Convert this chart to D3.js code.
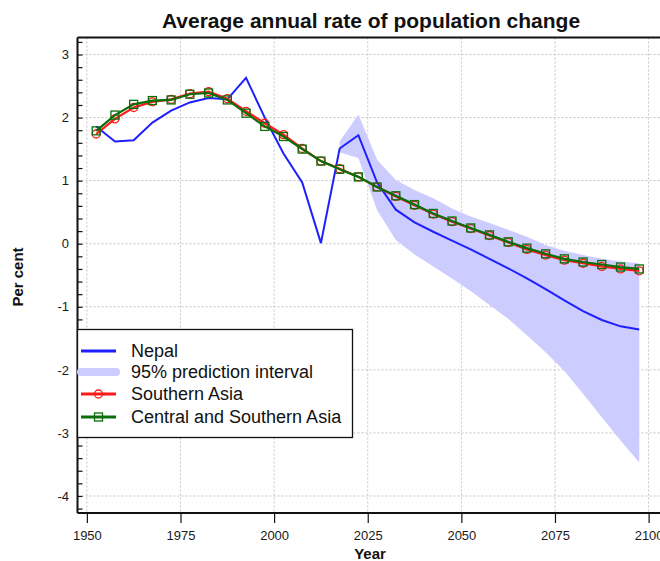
<!DOCTYPE html>
<html><head><meta charset="utf-8">
<script src="https://cdn.jsdelivr.net/npm/d3@7"></script>
<style>body{margin:0;background:#fff}svg{display:block;font-family:"Liberation Sans",Arial,sans-serif}</style>
</head><body><svg id="c" width="660" height="561"></svg>
<script>
const years = d3.range(30).map(i => 1952.5 + 5 * i);
const nepal = [1.86,1.62,1.64,1.92,2.11,2.24,2.31,2.29,2.63,2.00,1.43,0.97,0.01,1.51,1.72,0.97,0.54,0.34,0.19,0.05,-0.09,-0.24,-0.39,-0.55,-0.72,-0.90,-1.07,-1.21,-1.31,-1.36];
const southernAsia = [1.74,1.98,2.16,2.25,2.29,2.38,2.41,2.30,2.10,1.91,1.73,1.51,1.31,1.19,1.06,0.90,0.75,0.61,0.47,0.35,0.24,0.13,0.02,-0.09,-0.18,-0.26,-0.31,-0.36,-0.40,-0.43];
const centralSouthernAsia = [1.79,2.04,2.21,2.27,2.28,2.37,2.39,2.28,2.07,1.86,1.70,1.50,1.31,1.18,1.06,0.90,0.76,0.62,0.48,0.36,0.25,0.14,0.03,-0.07,-0.16,-0.24,-0.29,-0.33,-0.37,-0.40];
const piYears = d3.range(17).map(i => 2017.5 + 5 * i);
const piUpper = [1.62,2.05,1.33,1.01,0.85,0.72,0.56,0.43,0.33,0.22,0.11,-0.02,-0.11,-0.18,-0.24,-0.28,-0.31];
const piLower = [1.45,1.36,0.53,0.06,-0.17,-0.36,-0.55,-0.75,-0.97,-1.19,-1.45,-1.72,-2.02,-2.38,-2.75,-3.12,-3.47];
const xTicks = [1950,1975,2000,2025,2050,2075,2100];
const yTicks = [-4,-3,-2,-1,0,1,2,3];
const legendLabels = ["Nepal","95% prediction interval","Southern Asia","Central and Southern Asia"];

const svg = d3.select("#c");
const L = 77.5, T = 37.5, B = 513;
const x = d3.scaleLinear().domain([1947.5, 2105]).range([L, L + 157.5 * 3.745]);
const y = d3.scaleLinear().domain([-4.27, 3.27]).range([B, T]);

// gridlines
const g = svg.append("g");
g.selectAll(".gx").data(xTicks).join("line")
  .attr("x1", d => x(d)).attr("x2", d => x(d)).attr("y1", T).attr("y2", B)
  .attr("stroke", "#c4c4c4").attr("stroke-dasharray", "2,2").attr("stroke-width", 1);
g.selectAll(".gy").data(yTicks).join("line")
  .attr("x1", L).attr("x2", 660).attr("y1", d => y(d)).attr("y2", d => y(d))
  .attr("stroke", "#c4c4c4").attr("stroke-dasharray", "2,2").attr("stroke-width", 1);

// band
const pi = piYears.map((yr, i) => ({yr, lo: piLower[i], hi: piUpper[i]}));
svg.append("path").datum(pi)
  .attr("d", d3.area().x(d => x(d.yr)).y0(d => y(d.lo)).y1(d => y(d.hi)))
  .attr("fill", "#ccccff");

const line = d3.line().x(d => x(d[0])).y(d => y(d[1]));
svg.append("path").datum(years.map((yr, i) => [yr, nepal[i]]))
  .attr("d", line).attr("fill", "none").attr("stroke", "#1f1fff").attr("stroke-width", 2);

const sa = years.map((yr, i) => [yr, southernAsia[i]]);
svg.append("path").datum(sa).attr("d", line).attr("fill", "none").attr("stroke", "#ff1a1a").attr("stroke-width", 2.2);
svg.append("g").selectAll("circle").data(sa).join("circle")
  .attr("cx", d => x(d[0])).attr("cy", d => y(d[1])).attr("r", 4)
  .attr("fill", "none").attr("stroke", "#ff1a1a").attr("stroke-width", 1.3);

const csa = years.map((yr, i) => [yr, centralSouthernAsia[i]]);
svg.append("path").datum(csa).attr("d", line).attr("fill", "none").attr("stroke", "#0a6e0a").attr("stroke-width", 2.2);
svg.append("g").selectAll("rect").data(csa).join("rect")
  .attr("x", d => x(d[0]) - 4).attr("y", d => y(d[1]) - 4).attr("width", 8).attr("height", 8)
  .attr("fill", "none").attr("stroke", "#0a6e0a").attr("stroke-width", 1.3);

// axes
const yAxis = d3.axisRight(y).tickValues(d3.range(-42, 33, 2).map(v => v / 10)).tickSize(5).tickFormat("");
const ya = svg.append("g").attr("transform", `translate(${L},0)`).call(yAxis);
ya.select(".domain").attr("stroke", "#111").attr("stroke-width", 2).attr("d", `M0,${T}V${B}`);
ya.selectAll(".tick line").attr("stroke", "#111").attr("stroke-width", 1.2);
svg.append("g").selectAll("text").data(yTicks).join("text")
  .attr("x", 69).attr("y", d => y(d)).attr("dy", "0.36em").attr("text-anchor", "end")
  .attr("font-size", 13).attr("fill", "#1a1a1a").text(d => d);

const xAxis = d3.axisBottom(x).tickValues(xTicks).tickSize(10).tickFormat(d3.format("d"));
const xa = svg.append("g").attr("transform", `translate(0,${B})`).call(xAxis);
xa.select(".domain").attr("stroke", "#111").attr("stroke-width", 2).attr("d", `M${L},0H660`);
xa.selectAll(".tick line").attr("stroke", "#111").attr("stroke-width", 1.2);
xa.selectAll(".tick text").attr("font-size", 13).attr("fill", "#1a1a1a").attr("y", 18)
  .attr("font-family", "Liberation Sans, Arial, sans-serif");

svg.append("line").attr("x1", L).attr("x2", 660).attr("y1", T).attr("y2", T).attr("stroke", "#111").attr("stroke-width", 2);

// titles
svg.append("text").attr("x", 371).attr("y", 28).attr("text-anchor", "middle")
  .attr("font-size", 21).attr("font-weight", "bold").attr("fill", "#111").text("Average annual rate of population change");
svg.append("text").attr("transform", "translate(23,277) rotate(-90)").attr("text-anchor", "middle")
  .attr("font-size", 15).attr("font-weight", "bold").attr("fill", "#111").text("Per cent");
svg.append("text").attr("x", 370).attr("y", 559).attr("text-anchor", "middle")
  .attr("font-size", 15).attr("font-weight", "bold").attr("fill", "#111").text("Year");

// legend
const lg = svg.append("g");
lg.append("rect").attr("x", 77.5).attr("y", 329.5).attr("width", 275).attr("height", 108)
  .attr("fill", "#fff").attr("stroke", "#111").attr("stroke-width", 1.3);
const ly = [351, 372, 394, 417];
lg.append("line").attr("x1", 81).attr("x2", 116).attr("y1", ly[0]).attr("y2", ly[0]).attr("stroke", "#1f1fff").attr("stroke-width", 3);
lg.append("line").attr("x1", 81).attr("x2", 116).attr("y1", ly[1]).attr("y2", ly[1]).attr("stroke", "#ccccff").attr("stroke-width", 8).attr("stroke-linecap", "round");
lg.append("line").attr("x1", 81).attr("x2", 116).attr("y1", ly[2]).attr("y2", ly[2]).attr("stroke", "#ff1a1a").attr("stroke-width", 3);
lg.append("circle").attr("cx", 98.5).attr("cy", ly[2]).attr("r", 4).attr("fill", "none").attr("stroke", "#ff1a1a").attr("stroke-width", 1.3);
lg.append("line").attr("x1", 81).attr("x2", 116).attr("y1", ly[3]).attr("y2", ly[3]).attr("stroke", "#0a6e0a").attr("stroke-width", 3);
lg.append("rect").attr("x", 94.5).attr("y", ly[3] - 4).attr("width", 8).attr("height", 8).attr("fill", "none").attr("stroke", "#0a6e0a").attr("stroke-width", 1.3);
lg.selectAll("text.l").data(legendLabels).join("text")
  .attr("x", 131).attr("y", (d, i) => ly[i]).attr("dy", "0.36em")
  .attr("font-size", 18).attr("fill", "#111").text(d => d);
</script></body></html>
